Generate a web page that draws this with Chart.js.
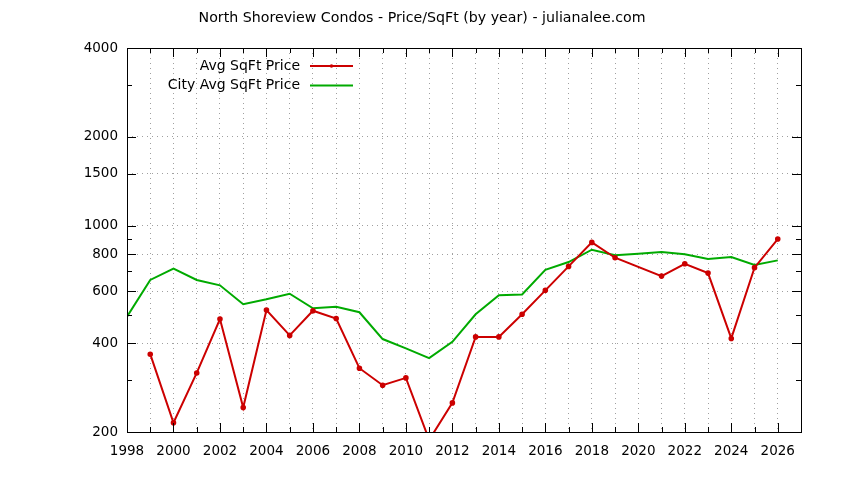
<!DOCTYPE html>
<html>
<head>
<meta charset="utf-8">
<script src="https://cdn.jsdelivr.net/npm/chart.js@4.4.1/dist/chart.umd.min.js"></script>
<style>
  html, body { margin: 0; padding: 0; background: #fff; }
</style>
</head>
<body>
<canvas id="priceChart" width="844" height="480"></canvas>
<script>
const years = [1998, 1999, 2000, 2001, 2002, 2003, 2004, 2005, 2006, 2007,
  2008, 2009, 2010, 2011, 2012, 2013, 2014, 2015, 2016, 2017,
  2018, 2019, 2020, 2021, 2022, 2023, 2024, 2025, 2026];
const avgPrice = [null, 367, 215, 317, 483, 242, 518, 425, 515, 485,
  329, 288, 305, 188, 251, 420, 420, 501, 604, 728,
  878, 779, null, 675, 743, 691, 415, 721, 901];
const cityPrice = [492, 655, 715, 655, 628, 542, 563, 588, 525, 531,
  509, 413, 384, 356, 404, 501, 581, 585, 709, 753,
  829, 794, 804, 814, 800, 771, 783, 736, 763];
const yTicks = [200, 300, 400, 500, 600, 700, 800, 900, 1000, 1500, 2000, 3000, 4000];
const yLabels = [200, 400, 600, 800, 1000, 1500, 2000, 4000];
const title = 'North Shoreview Condos - Price/SqFt (by year) - julianalee.com';

const FONT = 'DejaVu Sans';
const GRID = '#a0a0a0';

// gnuplot style title, frame, inward ticks and legend
const gnuFrame = {
  id: 'gnuFrame',
  afterDraw(chart) {
    const { ctx, chartArea: a, scales } = chart;
    ctx.save();
    ctx.fillStyle = '#000';
    ctx.font = '14.2px "' + FONT + '"';
    ctx.textAlign = 'center';
    ctx.textBaseline = 'middle';
    ctx.fillText(title, 422, 18.5);

    ctx.strokeStyle = '#000';
    ctx.lineWidth = 1;
    ctx.beginPath();
    scales.y.ticks.forEach(t => {
      const y = Math.round(scales.y.getPixelForValue(t.value)) + 0.5;
      const len = yLabels.includes(t.value) ? 9 : 5;
      ctx.moveTo(a.left, y); ctx.lineTo(a.left + len, y);
      ctx.moveTo(a.right, y); ctx.lineTo(a.right - len, y);
    });
    scales.x.ticks.forEach(t => {
      const x = Math.round(scales.x.getPixelForValue(t.value)) + 0.5;
      const len = t.value % 2 === 0 ? 9 : 5;
      ctx.moveTo(x, a.bottom); ctx.lineTo(x, a.bottom - len);
      ctx.moveTo(x, a.top); ctx.lineTo(x, a.top + len);
    });
    ctx.stroke();
    ctx.strokeRect(Math.round(a.left) + 0.5, Math.round(a.top) + 0.5,
      Math.round(a.right - a.left), Math.round(a.bottom - a.top));

    // legend
    ctx.font = '14px "' + FONT + '"';
    ctx.textAlign = 'right';
    chart.data.datasets.forEach((ds, i) => {
      const y = 66 + i * 19.5;
      ctx.fillStyle = '#000';
      ctx.fillText(ds.label, 300, y);
      ctx.strokeStyle = ds.borderColor;
      ctx.lineWidth = 2;
      ctx.beginPath();
      ctx.moveTo(310, y); ctx.lineTo(353, y);
      ctx.stroke();
      if (ds.pointRadius > 0) {
        ctx.fillStyle = ds.borderColor;
        ctx.beginPath();
        ctx.arc(331.5, y, 1.8, 0, Math.PI * 2);
        ctx.fill();
      }
    });
    ctx.restore();
  }
};

new Chart(document.getElementById('priceChart'), {
  type: 'line',
  data: {
    labels: years,
    datasets: [{
      label: 'Avg SqFt Price',
      data: years.map((yr, i) => ({ x: yr, y: avgPrice[i] })),
      borderColor: '#cc0000',
      backgroundColor: '#cc0000',
      borderWidth: 2,
      pointRadius: 1.8,
      pointStyle: 'circle',
      spanGaps: true,
      clip: 0,
      tension: 0
    }, {
      label: 'City Avg SqFt Price',
      data: years.map((yr, i) => ({ x: yr, y: cityPrice[i] })),
      borderColor: '#00aa00',
      backgroundColor: '#00aa00',
      borderWidth: 2,
      pointRadius: 0,
      clip: 0,
      tension: 0
    }]
  },
  options: {
    responsive: false,
    animation: false,
    events: [],
    layout: { padding: { top: 48, right: 43, left: 0, bottom: 0 } },
    plugins: {
      legend: { display: false },
      tooltip: { enabled: false },
      title: { display: false }
    },
    scales: {
      x: {
        type: 'linear',
        min: 1998,
        max: 2027,
        afterFit: s => { s.height = 48; },
        ticks: {
          stepSize: 1,
          autoSkip: false,
          maxRotation: 0,
          padding: 11,
          color: '#000',
          font: { family: FONT, size: 13.5 },
          callback: v => (v % 2 === 0 && v < 2027 ? String(v) : '')
        },
        grid: {
          color: ctx => (ctx.tick && (ctx.tick.value === 1998 || ctx.tick.value === 2027) ? 'rgba(0,0,0,0)' : GRID),
          borderDash: [1, 4],
          drawTicks: false
        },
        border: { display: false, dash: [1, 4] }
      },
      y: {
        type: 'logarithmic',
        min: 200,
        max: 4000,
        afterFit: s => { s.width = 127; },
        afterBuildTicks: s => { s.ticks = yTicks.map(v => ({ value: v })); },
        ticks: {
          autoSkip: false,
          padding: 9,
          color: '#000',
          font: { family: FONT, size: 13.5 },
          callback: v => (yLabels.includes(v) ? String(v) : '')
        },
        grid: {
          color: ctx => {
            const v = ctx.tick && ctx.tick.value;
            return yLabels.includes(v) && v !== 200 && v !== 4000 ? GRID : 'rgba(0,0,0,0)';
          },
          borderDash: [1, 4],
          drawTicks: false
        },
        border: { display: false, dash: [1, 4] }
      }
    }
  },
  plugins: [gnuFrame]
});
</script>
</body>
</html>
